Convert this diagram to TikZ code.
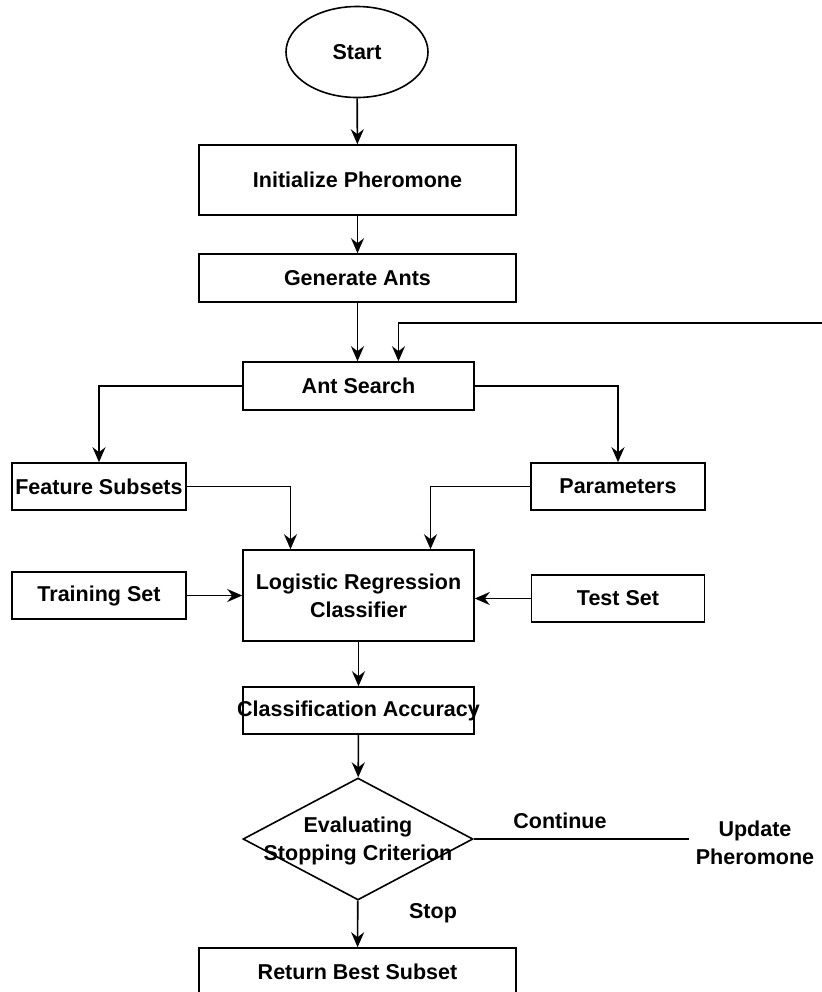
\documentclass[tikz,border=0pt]{standalone}
\usepackage{fontspec}
\setmainfont{Liberation Sans}
\usepackage{tikz}
\usetikzlibrary{shapes,arrows,positioning,calc,arrows.meta}

\begin{document}
\begin{tikzpicture}[x=0.5pt, y=-0.5pt,
    every node/.style={font=\fontsize{10.75}{14}\selectfont\bfseries},
    box/.style={draw, line width=0.8pt, inner sep=0pt, align=center, minimum width=115.5pt, minimum height=24pt},
    >={Stealth[length=7.5pt, width=6.5pt, inset=2.5pt]},
    arr/.style={->, line width=0.8pt}]
    \useasboundingbox (0, 0) rectangle (822, 992);

    % Start
    \node [draw, ellipse, line width=0.8pt, minimum width=71pt, minimum height=45.5pt] (start) at (357, 52) {Start};
    \node [box, minimum width=158.5pt, minimum height=35pt] (init) at (357.5, 180) {Initialize Pheromone};
    \node [box, minimum width=158.5pt] (gen) at (357.5, 278) {Generate Ants};
    \node [box] (search) at (358.5, 386) {Ant Search};
    \coordinate (fb) at (822, 323);

    % Subsets and parameters
    \node [box, minimum width=87pt, minimum height=23.5pt] (feat) at (99, 486.5) {Feature Subsets};
    \node [box, minimum width=87pt, minimum height=23.5pt] (param) at (618, 486.5) {Parameters};

    % Classifier
    \node [box, minimum width=87pt, minimum height=23.5pt] (train) at (99, 595.5) {Training Set};
    \node [box, minimum height=45.5pt] (lr) at (358.5, 595.5) {Logistic Regression\\Classifier};
    \node [box, minimum width=86.5pt, minimum height=23.5pt] (test) at (618, 598.5) {Test Set};
    \node [box, minimum height=23.5pt] (acc) at (358.5, 710.5) {\makebox[0pt]{Classification Accuracy}};

    % Stopping check
    \node [draw, diamond, line width=0.8pt, inner sep=0pt, minimum width=115pt, minimum height=61pt,
           label={[align=center, yshift=-1pt]center:Evaluating\\Stopping Criterion}] (dec) at (358, 839) {};
    \node [align=center] (upd) at (755, 842.5) {Update\\Pheromone};
    \node (cont) at (560, 821) {Continue};
    \node (stoplbl) at (433, 913) {Stop};
    \node [box, minimum width=158.5pt] (ret) at (357.5, 972) {Return Best Subset};

    % Connectors
    \draw [arr] (start) -- (init);
    \draw [arr] (init) -- (gen);
    \draw [arr] (gen.south) -- (gen.south |- search.north);
    \draw [arr] (fb) -| ([xshift=20pt]search.north);
    \draw [arr] (search.west) -| (feat.north);
    \draw [arr] (search.east) -| (param.north);
    \draw [arr] (feat.east) -| ([xshift=-34pt]lr.north);
    \draw [arr] (param.west) -| ([xshift=36pt]lr.north);
    \draw [arr] (train) -- (lr);
    \draw [arr] (test.west) -- (test.west -| lr.east);
    \draw [arr] (lr) -- (acc);
    \draw [arr] (acc) -- (dec);
    \draw [arr] (dec) -- (ret);
    \draw [line width=0.8pt] (dec.east) -- (dec.east -| upd.west);
\end{tikzpicture}
\end{document}
